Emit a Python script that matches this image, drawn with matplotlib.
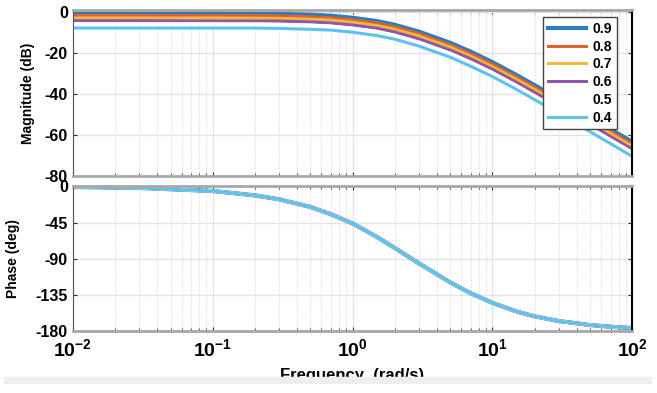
import matplotlib
matplotlib.use("Agg")
import matplotlib.pyplot as plt
from matplotlib.patches import Rectangle

plt.rcParams['font.family'] = ['Liberation Sans', 'DejaVu Sans']
plt.rcParams['font.weight'] = 'bold'
plt.rcParams['mathtext.fontset'] = 'custom'
plt.rcParams['mathtext.rm'] = 'Liberation Sans:bold'
plt.rcParams['mathtext.bf'] = 'Liberation Sans:bold'

freq = [0.01, 0.03, 0.1, 0.2, 0.3, 0.5, 0.7, 1, 1.5, 2, 3, 5, 7,
        10, 15, 20, 30, 50, 70, 100]

gains = ['0.9', '0.8', '0.7', '0.6', '0.5', '0.4']

mag_09 = [-0.9, -0.9, -0.9, -1.0, -1.1, -1.5, -2.0, -3.0, -4.6, -6.4, -9.8,
          -15.2, -19.5, -24.6, -31.0, -35.8, -42.6, -51.4, -57.3, -63.4]
mag_08 = [-1.9, -1.9, -2.0, -2.0, -2.1, -2.5, -3.0, -4.0, -5.6, -7.4, -10.8,
          -16.2, -20.5, -25.6, -32.0, -36.8, -43.6, -52.5, -58.3, -64.5]
mag_07 = [-3.1, -3.1, -3.1, -3.2, -3.3, -3.7, -4.1, -5.2, -6.8, -8.6, -11.9,
          -17.3, -21.7, -26.8, -33.1, -37.9, -44.8, -53.6, -59.4, -65.6]
mag_06 = [-4.4, -4.4, -4.5, -4.5, -4.6, -5.0, -5.5, -6.5, -8.1, -9.9, -13.3,
          -18.7, -23.0, -28.1, -34.5, -39.3, -46.2, -55.0, -60.8, -67.0]
mag_05 = [-6.0, -6.0, -6.0, -6.1, -6.2, -6.6, -7.1, -8.1, -9.7, -11.5, -14.9,
          -20.3, -24.6, -29.7, -36.1, -40.9, -47.7, -56.5, -62.4, -68.5]
mag_04 = [-8.0, -8.0, -8.0, -8.0, -8.2, -8.6, -9.0, -10.0, -11.7, -13.4, -16.8,
          -22.2, -26.6, -31.6, -38.0, -42.8, -49.7, -58.5, -64.3, -70.5]
mags = [mag_09, mag_08, mag_07, mag_06, mag_05, mag_04]

phase = [-0.6, -1.8, -5.6, -11.0, -16.0, -25.5, -34.5, -46.0, -63.0, -76.5,
         -96.0, -119.5, -133.0, -145.0, -155.9, -161.7, -167.7, -172.6,
         -174.7, -176.3]

colors = ['#2b7bbf', '#e0622a', '#f0b93a', '#9455a8', 'white', '#5cc3ef']
widths = [3.0, 2.2, 2.2, 2.2, 2.2, 2.2]

fig = plt.figure(figsize=(6.57, 3.93), dpi=100)
ax1 = fig.add_axes([0.1107, 0.5522, 0.8517, 0.4224])
ax2 = fig.add_axes([0.1107, 0.1578, 0.8517, 0.3697])

for i in range(len(gains)):
    ax1.plot(freq, mags[i], color=colors[i], lw=widths[i], label=gains[i])
    ax2.plot(freq, phase, color=colors[i], lw=widths[i])

for ax in (ax1, ax2):
    ax.set_xscale('log')
    ax.set_xlim(0.01, 100)
    ax.grid(True, which='major', color='#e4e4e4', lw=1.0, ls='-')
    ax.grid(True, which='minor', axis='x', color='#d8d8d8', lw=0.6, ls=(0, (2, 2)))
    ax.set_axisbelow(True)
    ax.tick_params(which='both', direction='in', top=True, right=True,
                   colors='#333333', labelsize=8.5, length=3)
    ax.tick_params(which='minor', length=2)
    ax.spines['top'].set_color('#a8a8a8')
    ax.spines['top'].set_linewidth(2)
    ax.spines['bottom'].set_color('#a8a8a8')
    ax.spines['bottom'].set_linewidth(2)
    ax.spines['left'].set_color('#555555')
    ax.spines['right'].set_color('black')
    ax.spines['right'].set_linewidth(1.5)

ax1.set_ylim(-80, 0.8)
ax1.set_yticks([0, -20, -40, -60, -80])
ax1.set_yticklabels(['0', '-20', '-40', '-60', '-80'], fontweight='bold',
                    fontsize=11.5, color='black')
ax1.tick_params(axis='x', which='both', labelbottom=False)
ax1.set_ylabel('Magnitude (dB)', fontsize=10, fontweight='bold')
ax1.yaxis.set_label_coords(-0.067, 0.5)

ax2.set_ylim(-180, 1)
ax2.set_yticks([0, -45, -90, -135, -180])
ax2.set_yticklabels(['0', '-45', '-90', '-135', '-180'], fontweight='bold',
                    fontsize=11.5, color='black')
ax2.set_xticks([0.01, 0.1, 1, 10, 100])
ax2.set_xticklabels([r'$\mathbf{10^{-2}}$', r'$\mathbf{10^{-1}}$',
                     r'$\mathbf{10^{0}}$', r'$\mathbf{10^{1}}$',
                     r'$\mathbf{10^{2}}$'], fontsize=14, color='black')
ax2.tick_params(axis='x', which='major', pad=5)
ax2.set_ylabel('Phase (deg)', fontsize=10, fontweight='bold')
ax2.yaxis.set_label_coords(-0.094, 0.5)
ax2.set_xlabel('Frequency  (rad/s)', fontsize=12, fontweight='bold', labelpad=6)

leg = ax1.legend(loc='upper right', bbox_to_anchor=(0.9727, 0.958),
                 borderaxespad=0,
                 prop={'weight': 'bold', 'size': 10}, fancybox=False,
                 framealpha=1, edgecolor='#444444', handlelength=2.7,
                 borderpad=0.35, labelspacing=0.27, handletextpad=0.5)
leg.get_frame().set_linewidth(1.0)

# light band across the bottom, covering part of the axis label
fig.patches.append(Rectangle((4 / 657, 1 - 383 / 393), 647 / 657, 6 / 393,
                             transform=fig.transFigure, color='#eeeeee',
                             zorder=5))

fig.savefig('out.png', dpi=100, facecolor='white')
